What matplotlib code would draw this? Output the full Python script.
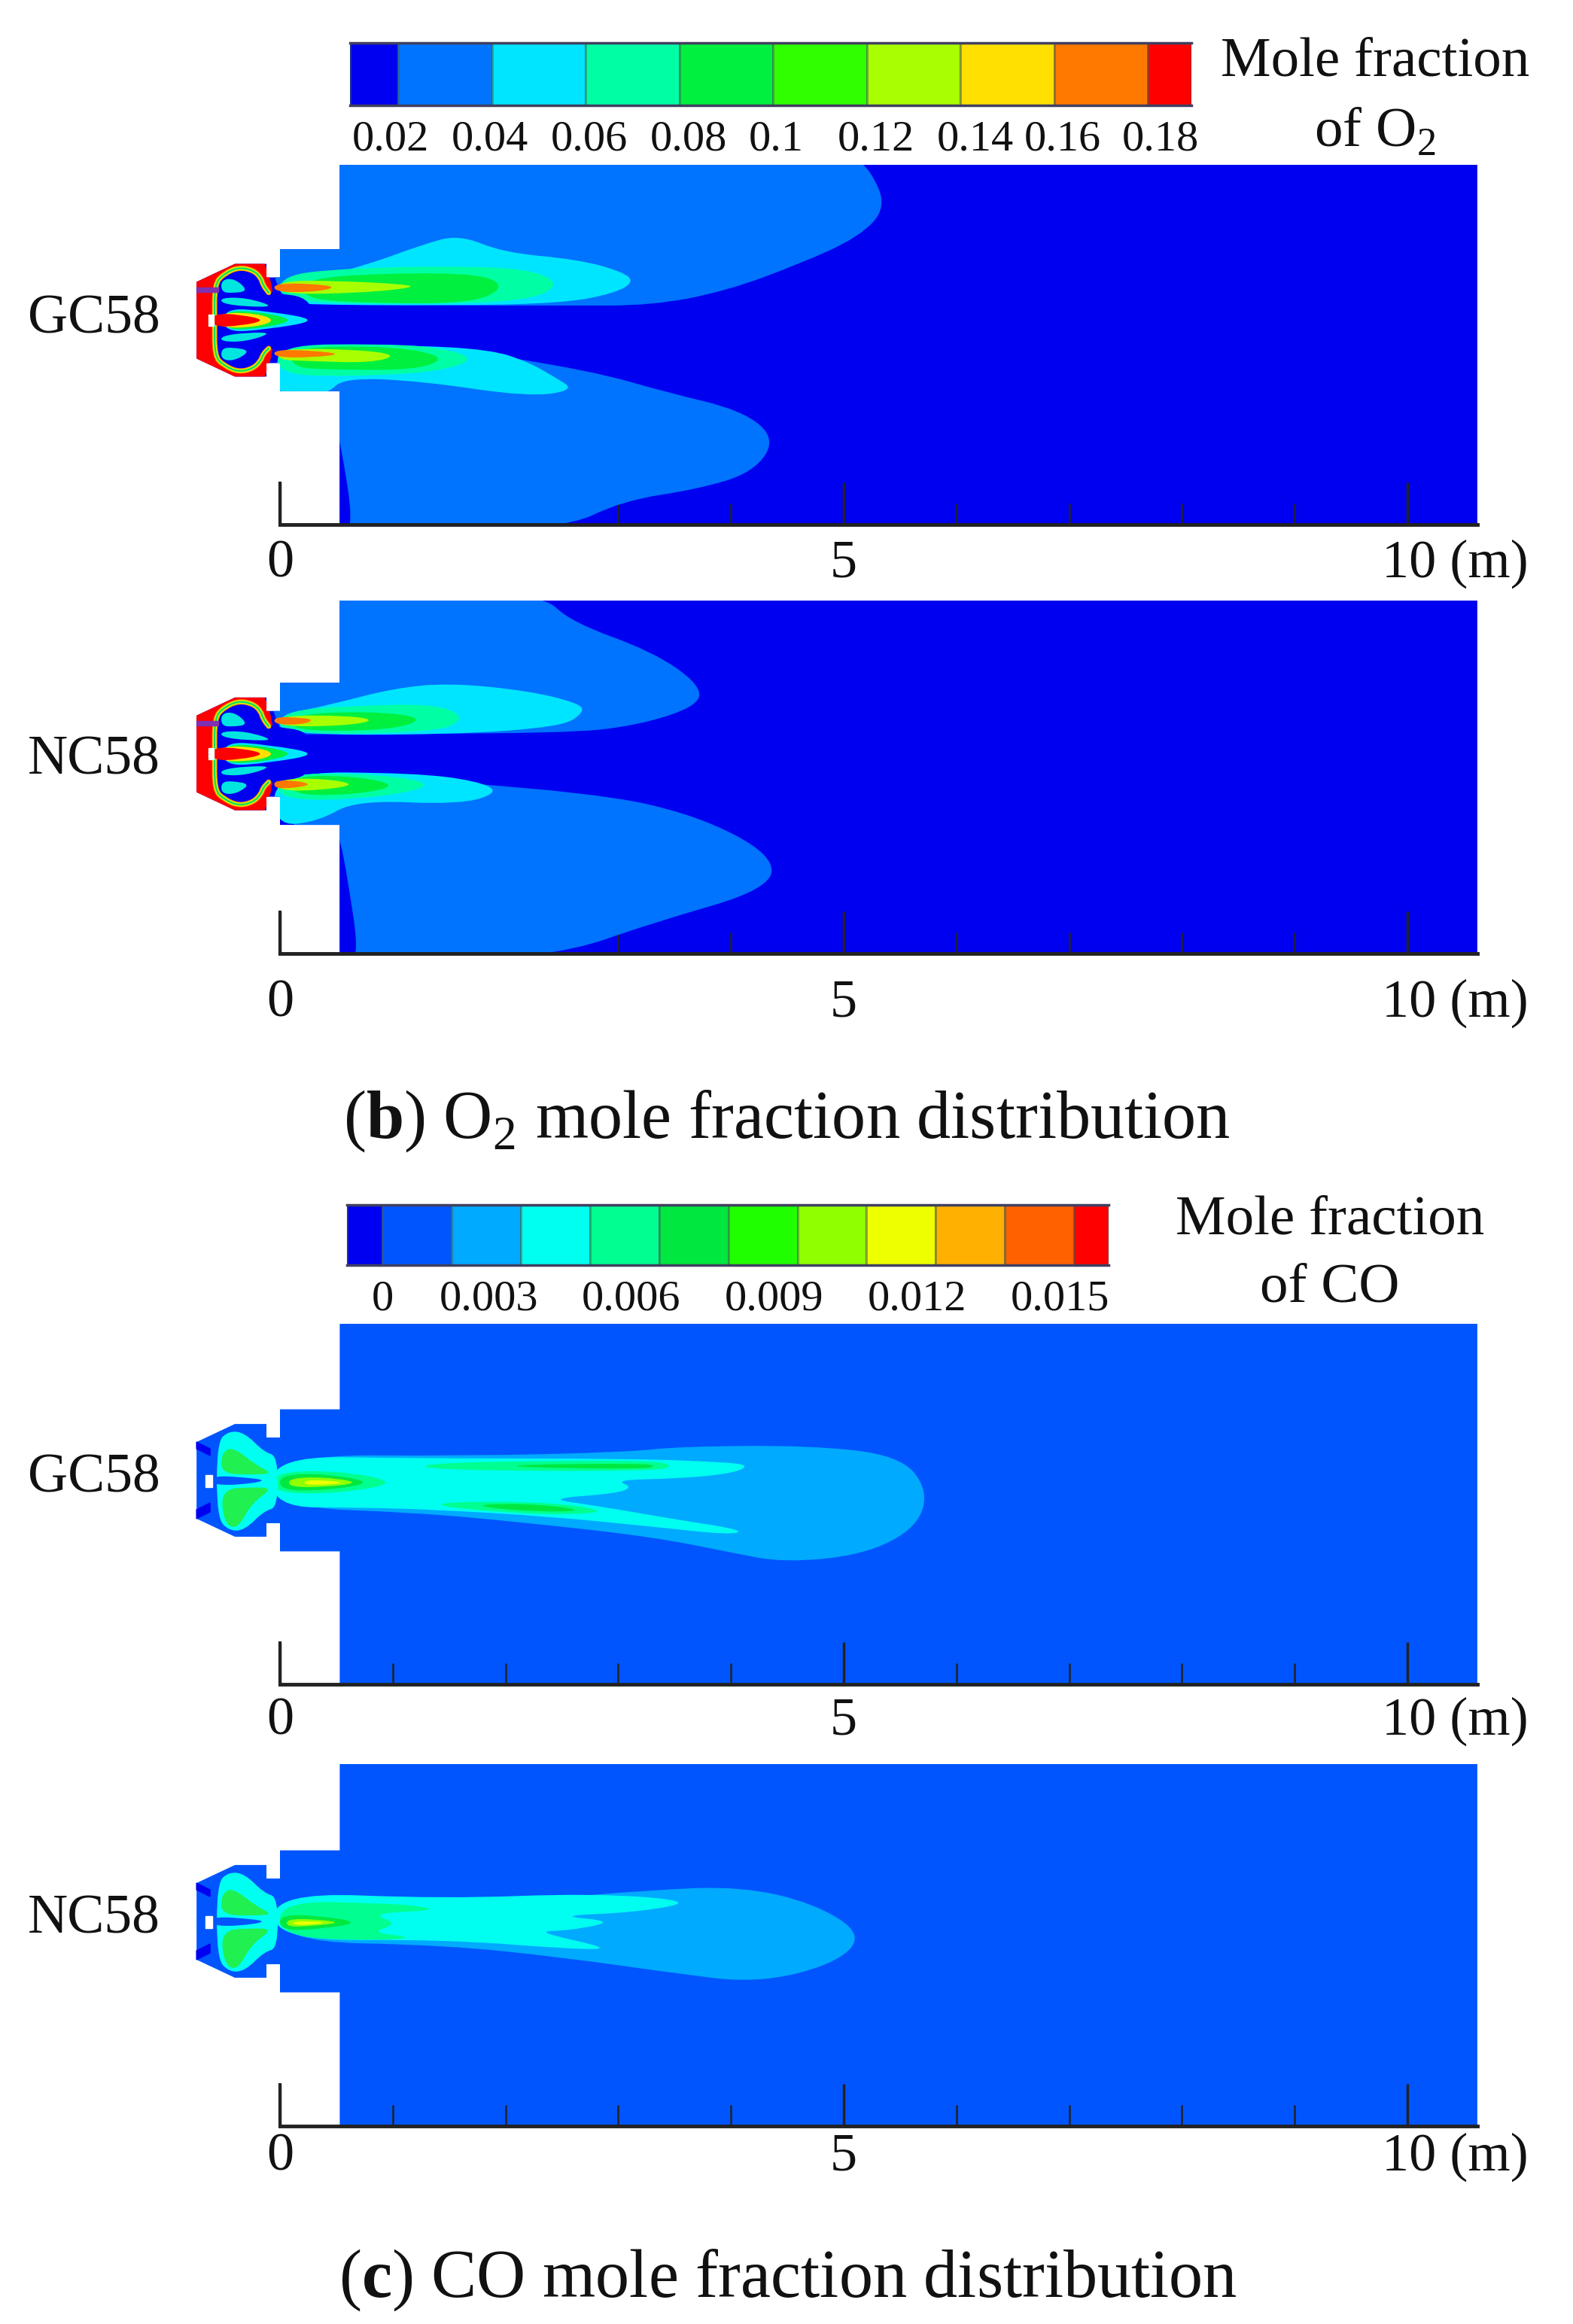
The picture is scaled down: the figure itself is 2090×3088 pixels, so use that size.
import numpy as np
import matplotlib
matplotlib.use('Agg')
import matplotlib.pyplot as plt
from matplotlib.colors import ListedColormap, BoundaryNorm
from matplotlib.path import Path
from matplotlib.patches import PathPatch
from matplotlib.transforms import ScaledTranslation

plt.rcParams['font.family'] = ['Liberation Serif', 'DejaVu Serif']
plt.rcParams['mathtext.fontset'] = 'custom'
plt.rcParams['mathtext.rm'] = 'Liberation Serif'
plt.rcParams['mathtext.bf'] = 'Liberation Serif:bold'

WIDTH, HEIGHT = 2090, 3088
PX_PER_M = 149.8
X0_PX = 372

# Colour bars
O2_EDGES = [0.0097, 0.02, 0.04, 0.06, 0.08, 0.1, 0.12, 0.14, 0.16, 0.18, 0.1893]
O2_COLORS = ['#0000f0', '#0073ff', '#00e5ff', '#00ffa5', '#00f040',
             '#30ff00', '#a8ff00', '#ffe000', '#ff7800', '#ff0000']
O2_TICKS = [0.0184, 0.0396, 0.0608, 0.082, 0.1007, 0.1219, 0.1431, 0.1618, 0.1827]
O2_LABELS = ['0.02', '0.04', '0.06', '0.08', '0.1', '0.12', '0.14', '0.16', '0.18']

CO_EDGES = [-0.00077, 0, 0.0015, 0.003, 0.0045, 0.006, 0.0075, 0.009, 0.0105,
            0.012, 0.0135, 0.015, 0.01575]
CO_COLORS = ['#0000f0', '#0055ff', '#00aaff', '#00fff0', '#00ff90', '#00e840',
             '#20ff00', '#90ff00', '#eeff00', '#ffb000', '#ff6000', '#ff0000']
CO_TICKS = [0, 0.0023, 0.0054, 0.0085, 0.0116, 0.0147]
CO_LABELS = ['0', '0.003', '0.006', '0.009', '0.012', '0.015']

X_MAJOR = [0, 5, 10]
X_MINOR = [1, 2, 3, 4, 6, 7, 8, 9]
X_LABELS = ['0', '5', '10 (m)']

# Outlines: x in m from the axis origin, y in m from the burner axis
BURNER_BOX = [(-0.74, 0.34), (-0.40, 0.50), (-0.12, 0.50), (-0.12, 0.38), (0, 0.38), (0, 0.63),
              (0.53, 0.63)]
BOWL = [(-0.10, 0.245), (-0.15, 0.31), (-0.17, 0.38), (-0.24, 0.445), (-0.37, 0.47), (-0.50, 0.41),
        (-0.58, 0.32), (-0.58, 0), (-0.58, -0.32), (-0.50, -0.40), (-0.37, -0.46), (-0.24, -0.43),
        (-0.17, -0.36), (-0.15, -0.30), (-0.10, -0.25)]
FINGERS = [[(-0.52, 0.20), (-0.30, 0.20), (-0.04, 0.12), (-0.30, 0.12), (-0.52, 0.15)],
           [(-0.52, -0.19), (-0.30, -0.19), (-0.06, -0.11), (-0.30, -0.11), (-0.52, -0.14)],
           [(-0.52, 0.36), (-0.40, 0.37), (-0.28, 0.26), (-0.42, 0.24), (-0.52, 0.25)],
           [(-0.52, -0.35), (-0.40, -0.36), (-0.26, -0.27), (-0.42, -0.24), (-0.52, -0.25)]]
SPIKE_CYAN = [(-0.5, 0.11), (-0.1, 0.08), (0.36, 0), (-0.1, -0.08), (-0.5, -0.11)]
SPIKE_GREEN = [(-0.5, 0.09), (-0.15, 0.07), (0.14, 0), (-0.15, -0.07), (-0.5, -0.09)]
SPIKE_YELLOW = [(-0.55, 0.07), (-0.2, 0.06), (-0.04, 0), (-0.2, -0.06), (-0.55, -0.07)]
SPIKE_RED = [(-0.6, 0.06), (-0.35, 0.05), (-0.12, 0), (-0.35, -0.05), (-0.6, -0.06)]

# O2, GC58
GC_O2_BLUE_TOP = [(0, 0.20), (-0.2, 0.9), (0.3, 1.6), (5.07, 1.46), (5.24, 1.33), (5.38, 1.00),
                  (5.14, 0.74), (4.61, 0.50), (3.96, 0.26), (3.30, 0.13), (2.51, 0.13), (1.46, 0.13),
                  (0.14, 0.14)]
GC_O2_CYAN_TOP = [(0.0, 0.20), (0.14, 0.32), (0.80, 0.50), (1.26, 0.67), (1.59, 0.76), (1.98, 0.60),
                  (2.64, 0.54), (3.04, 0.43), (3.14, 0.34), (2.97, 0.24), (2.51, 0.15), (1.46, 0.13),
                  (0.0, 0.14)]
GC_O2_TEAL_TOP = [(0.0, 0.40), (0.6, 0.46), (1.4, 0.48), (2.2, 0.46), (2.5, 0.32), (2.2, 0.17),
                  (1.2, 0.14), (0.0, 0.16)]
GC_O2_GREEN_TOP = [(0.2, 0.37), (1.0, 0.42), (1.8, 0.41), (2.0, 0.29), (1.7, 0.15), (0.8, 0.15),
                   (0.2, 0.19)]
GC_O2_YELLOW_TOP = [(-0.02, 0.35), (0.5, 0.35), (1.1, 0.32), (1.2, 0.29), (0.7, 0.24), (-0.02, 0.23)]
GC_O2_ORANGE_TOP = [(-0.05, 0.33), (0.35, 0.32), (0.5, 0.29), (0.3, 0.25), (-0.05, 0.25)]
GC_O2_BLUE_LOW = [(0.0, -0.65), (0.54, -0.2), (1.46, -0.24), (2.77, -0.45), (3.43, -0.64), (4.10, -0.80),
                  (4.40, -1.05), (4.20, -1.35), (3.70, -1.50), (3.04, -1.60), (2.5, -1.86), (0.3, -1.95)]
GC_O2_CYAN_LOW = [(-0.05, -0.22), (1.12, -0.22), (1.87, -0.26), (2.2, -0.37), (2.43, -0.50), (2.62, -0.62),
                  (2.2, -0.68), (1.26, -0.54), (0.56, -0.51), (0.42, -0.66), (-0.05, -0.70)]
GC_O2_TEAL_LOW = [(-0.02, -0.22), (0.9, -0.21), (1.4, -0.24), (1.75, -0.34), (1.4, -0.46), (0.6, -0.50),
                  (-0.02, -0.48)]
GC_O2_GREEN_LOW = [(0.1, -0.24), (0.9, -0.23), (1.3, -0.28), (1.45, -0.35), (1.2, -0.44), (0.5, -0.44),
                   (0.1, -0.42)]
GC_O2_YELLOW_LOW = [(-0.02, -0.25), (0.7, -0.26), (1.05, -0.31), (0.8, -0.38), (0.2, -0.36), (-0.02, -0.35)]
GC_O2_ORANGE_LOW = [(-0.05, -0.26), (0.3, -0.27), (0.55, -0.30), (0.3, -0.33), (-0.05, -0.33)]
GC_O2_SLIVER = [(0.50, -1.0), (0.53, -1.05), (0.66, -1.85), (0.50, -1.9)]

# O2, NC58
NC_O2_BLUE_TOP = [(0, 0.15), (-0.2, 0.9), (0.3, 1.6), (2.31, 1.43), (2.58, 1.17), (3.30, 0.91), (3.72, 0.62),
                  (3.72, 0.43), (3.17, 0.25), (2.51, 0.18), (0.14, 0.18)]
NC_O2_CYAN_TOP = [(0.0, 0.34), (0.5, 0.45), (1.0, 0.58), (1.5, 0.63), (2.2, 0.56), (2.65, 0.45), (2.70, 0.37),
                  (2.5, 0.24), (1.5, 0.17), (0.0, 0.17)]
NC_O2_TEAL_TOP = [(0.0, 0.38), (0.7, 0.43), (1.4, 0.44), (1.65, 0.32), (1.4, 0.19), (0.0, 0.17)]
NC_O2_GREEN_TOP = [(0.1, 0.35), (0.8, 0.38), (1.3, 0.32), (1.0, 0.21), (0.1, 0.20)]
NC_O2_YELLOW_TOP = [(-0.02, 0.34), (0.6, 0.34), (0.85, 0.30), (0.6, 0.25), (-0.02, 0.24)]
NC_O2_ORANGE_TOP = [(-0.05, 0.33), (0.2, 0.32), (0.3, 0.30), (0.2, 0.26), (-0.05, 0.26)]
NC_O2_BLUE_LOW = [(0.0, -0.65), (0.5, -0.18), (2.77, -0.34), (3.69, -0.54), (4.38, -0.90), (4.34, -1.20),
                  (3.30, -1.50), (2.44, -1.80), (0.3, -1.95)]
NC_O2_CYAN_LOW = [(-0.05, -0.16), (1.2, -0.17), (1.75, -0.24), (1.95, -0.34), (1.6, -0.45), (0.67, -0.41),
                  (0.34, -0.60), (-0.05, -0.64)]
NC_O2_TEAL_LOW = [(-0.02, -0.17), (0.9, -0.18), (1.4, -0.27), (0.9, -0.39), (-0.02, -0.42)]
NC_O2_GREEN_LOW = [(0.1, -0.19), (0.7, -0.20), (1.05, -0.28), (0.7, -0.36), (0.1, -0.37)]
NC_O2_YELLOW_LOW = [(-0.02, -0.22), (0.4, -0.22), (0.68, -0.27), (0.4, -0.32), (-0.02, -0.33)]
NC_O2_ORANGE_LOW = [(-0.05, -0.23), (0.15, -0.24), (0.28, -0.27), (0.15, -0.30), (-0.05, -0.31)]
NC_O2_SLIVER = [(0.50, -0.7), (0.53, -0.75), (0.60, -1.1), (0.71, -1.85), (0.50, -1.9)]

# CO, GC58
GC_CO_SKY = [(-0.02, 0.227), (1.66, 0.216), (3.07, 0.25), (3.54, 0.30), (4.71, 0.31), (5.50, 0.22),
             (5.75, -0.085), (5.65, -0.42), (5.18, -0.66), (4.47, -0.73), (4.0, -0.64), (3.30, -0.50),
             (2.13, -0.37), (1.19, -0.285), (-0.02, -0.24)]
GC_CO_CYAN = [(-0.07, 0.216), (1.19, 0.194), (3.07, 0.194), (4.0, 0.16), (4.16, 0.127), (4.0, 0.06),
              (3.54, 0.016), (2.97, 0.004), (3.13, -0.062), (2.97, -0.118), (2.36, -0.163), (2.83, -0.229),
              (3.54, -0.352), (4.11, -0.44), (4.0, -0.485), (3.30, -0.41), (2.36, -0.318), (1.43, -0.263),
              (0.73, -0.24), (-0.07, -0.24)]
GC_CO_UP_TEAL = [(1.29, 0.16), (3.3, 0.18), (3.5, 0.127), (3.3, 0.08), (1.29, 0.09)]
GC_CO_UP_GREEN = [(2.1, 0.14), (3.2, 0.15), (3.35, 0.127), (3.2, 0.10), (2.1, 0.115)]
GC_CO_LOW_TEAL = [(1.43, -0.19), (2.4, -0.19), (2.95, -0.28), (2.4, -0.31), (1.43, -0.24)]
GC_CO_LOW_GREEN = [(1.8, -0.21), (2.3, -0.21), (2.72, -0.27), (2.3, -0.28), (1.8, -0.24)]
GC_CO_CORE_TEAL = [(-0.07, 0.07), (0.5, 0.09), (1.08, -0.02), (0.5, -0.12), (-0.07, -0.11)]
GC_CO_CORE_GREEN = [(0.0, 0.05), (0.4, 0.06), (0.85, -0.02), (0.4, -0.09), (0.0, -0.09)]
GC_CO_CORE_LIME = [(0.08, 0.02), (0.4, 0.03), (0.72, -0.02), (0.4, -0.06), (0.08, -0.06)]
GC_CO_CORE_YELLOW = [(0.22, 0.0), (0.4, 0.0), (0.58, -0.02), (0.4, -0.04), (0.22, -0.04)]
CO_BOWL = [(-0.56, 0.34), (-0.45, 0.44), (-0.31, 0.42), (-0.14, 0.25), (-0.02, 0.216), (-0.02, -0.24),
           (-0.14, -0.27), (-0.31, -0.44), (-0.45, -0.45), (-0.56, -0.33)]
CO_BOWL_GREEN_UP = [(-0.52, 0.24), (-0.42, 0.30), (-0.22, 0.14), (-0.06, 0.06), (-0.25, 0.05), (-0.52, 0.06)]
CO_BOWL_GREEN_LOW = [(-0.52, -0.08), (-0.25, -0.06), (-0.06, -0.07), (-0.25, -0.2), (-0.38, -0.44), (-0.50, -0.37)]
CO_WEDGE = [(-0.6, 0.04), (-0.35, 0.03), (-0.10, 0), (-0.35, -0.04), (-0.6, -0.04)]

# CO, NC58
NC_CO_SKY = [(0.0, 0.24), (2.12, 0.18), (3.30, 0.28), (4.09, 0.31), (4.74, 0.16), (5.18, -0.12), (4.92, -0.38),
             (4.22, -0.55), (3.43, -0.45), (2.51, -0.32), (1.46, -0.21), (0.0, -0.18)]
NC_CO_CYAN = [(-0.05, 0.26), (1.46, 0.20), (2.77, 0.25), (3.70, 0.18), (3.17, 0.08), (2.44, 0.05), (2.98, 0.0),
              (2.58, -0.08), (2.25, -0.09), (2.94, -0.24), (2.64, -0.25), (1.46, -0.16), (-0.05, -0.17)]
NC_CO_TEAL = [(0.0, 0.18), (0.9, 0.16), (1.2, 0.14), (1.4, 0.10), (0.8, 0.07), (1.05, -0.02), (0.8, -0.10),
              (1.2, -0.14), (0.9, -0.17), (0.0, -0.14)]
NC_CO_GREEN = [(0.0, 0.06), (0.35, 0.05), (0.72, -0.01), (0.35, -0.07), (0.0, -0.08)]
NC_CO_LIME = [(0.06, 0.02), (0.3, 0.02), (0.55, -0.01), (0.3, -0.04), (0.06, -0.05)]
NC_CO_YELLOW = [(0.12, 0.0), (0.27, 0.0), (0.42, -0.01), (0.27, -0.03), (0.12, -0.03)]

fig = plt.figure(figsize=(WIDTH / 100, HEIGHT / 100), dpi=100, facecolor='white')


def px_axes(left, top, right, bottom):
    return fig.add_axes([left / WIDTH, 1 - bottom / HEIGHT, (right - left) / WIDTH, (bottom - top) / HEIGHT])


def px_text(x, y, s, size, **kw):
    fig.text(x / WIDTH, 1 - y / HEIGHT, s, fontsize=size, ha='center', va='center', color='#111111', **kw)


def smooth_path(points, closed=True):
    # quadratic spline through the midpoints, so the outlines have no corners
    pts = np.array(points, dtype=float)
    if closed:
        mids = (pts + np.roll(pts, -1, axis=0)) / 2
        verts = [mids[-1]]
        codes = [Path.MOVETO]
        for p, m in zip(pts, mids):
            verts += [p, m]
            codes += [Path.CURVE3, Path.CURVE3]
        verts.append(mids[-1])
        codes.append(Path.CLOSEPOLY)
    else:
        mids = (pts[:-1] + pts[1:]) / 2
        verts = [pts[0], mids[0]]
        codes = [Path.MOVETO, Path.LINETO]
        for p, m in zip(pts[1:-1], mids[1:]):
            verts += [p, m]
            codes += [Path.CURVE3, Path.CURVE3]
        verts.append(pts[-1])
        codes.append(Path.LINETO)
    return Path(verts, codes)


def add_field(ax, clip, points, color):
    patch = PathPatch(smooth_path(points), fc=color, ec='none', zorder=2)
    ax.add_patch(patch)
    patch.set_clip_path(clip)


def colorbar(left, top, right, bottom, edges, colors, ticks, labels, pad):
    ax = px_axes(left, top, right, bottom)
    cmap = ListedColormap(colors)
    norm = BoundaryNorm(edges, cmap.N)
    values = np.array([[(a + b) / 2 for a, b in zip(edges[:-1], edges[1:])]])
    ax.pcolormesh(edges, [0, 1], values, cmap=cmap, norm=norm, edgecolors='#40605080', linewidth=0.8)
    ax.set_xlim(edges[0], edges[-1])
    ax.set_yticks([])
    ax.set_xticks(ticks)
    ax.set_xticklabels(labels, fontsize=42, color='#111111')
    ax.tick_params(axis='x', length=0, pad=pad)
    for name in ['left', 'right']:
        ax.spines[name].set_visible(False)
    for name in ['top', 'bottom']:
        ax.spines[name].set_color('#404060')
        ax.spines[name].set_linewidth(2.5)


def panel(top, bottom, centre, base, layers, burner, pad):
    ax = px_axes(200, top, 2000, bottom)
    ax.set_xlim((200 - X0_PX) / PX_PER_M, (2000 - X0_PX) / PX_PER_M)
    y_top = (centre - top) / PX_PER_M
    y_bot = (centre - bottom) / PX_PER_M
    ax.set_ylim(y_bot, y_top)
    ax.patch.set_visible(False)

    mirrored = [(x, -y) for x, y in BURNER_BOX[::-1]]
    outline = BURNER_BOX + [(0.53, y_top), (10.62, y_top), (10.62, y_bot), (0.53, y_bot)] + mirrored
    clip = plt.Polygon(outline, closed=True, fc=base, ec='none', zorder=1)
    ax.add_patch(clip)

    for points, color in layers:
        add_field(ax, clip, points, color)
    burner(ax, clip)

    for name in ['top', 'right']:
        ax.spines[name].set_visible(False)
    ax.spines['bottom'].set_bounds(0, 10.62)
    ax.spines['bottom'].set_linewidth(3.5)
    ax.spines['bottom'].set_color('#222222')
    ax.spines['bottom'].set_zorder(5)
    ax.spines['left'].set_position(('data', 0))
    ax.spines['left'].set_bounds(y_bot, y_bot + 0.37)
    ax.spines['left'].set_linewidth(3)
    ax.spines['left'].set_color('#222222')
    ax.set_yticks([])

    ax.set_xticks(X_MINOR, minor=True)
    ax.set_xticks(X_MAJOR)
    ax.set_xticklabels(X_LABELS, fontsize=52, color='#111111')
    ax.tick_params(axis='x', which='major', direction='in', length=40, width=2.5, color='#222222', pad=pad)
    ax.tick_params(axis='x', which='minor', direction='in', length=20, width=1.8, color='#222222')
    label = ax.get_xticklabels()[2]
    label.set_ha('left')
    label.set_transform(label.get_transform() + ScaledTranslation(-0.34, 0, fig.dpi_scale_trans))
    return ax


def o2_burner(ax, clip):
    add_field(ax, clip, [(-0.85, 0.7), (-0.05, 0.7), (-0.05, -0.7), (-0.85, -0.7)], '#ff0000')
    bowl = PathPatch(smooth_path(BOWL + [(0.3, -0.2), (0.3, 0.2)]), fc=O2_COLORS[0], ec='none', zorder=3)
    ax.add_patch(bowl)
    for color, lw in [('#ff9000', 5), ('#d8f000', 3.5), ('#00e060', 1.5)]:
        line = PathPatch(smooth_path(BOWL, closed=False), fc='none', ec=color, lw=lw, zorder=3, capstyle='round')
        ax.add_patch(line)
    for finger in FINGERS:
        ax.add_patch(PathPatch(smooth_path(finger), fc='#00e5e0', ec='none', zorder=3))
    for spike, color in [(SPIKE_CYAN, O2_COLORS[2]), (SPIKE_GREEN, O2_COLORS[4]),
                         (SPIKE_YELLOW, O2_COLORS[7]), (SPIKE_RED, O2_COLORS[9])]:
        ax.add_patch(PathPatch(smooth_path(spike), fc=color, ec='none', zorder=3))
    ax.fill([-0.74, -0.55, -0.55, -0.74], [0.29, 0.29, 0.25, 0.25], color='#8030b0', zorder=3)
    ax.fill([-0.636, -0.59, -0.59, -0.636], [0.05, 0.05, -0.05, -0.05], color='white', zorder=4)


def co_burner(ax, clip):
    add_field(ax, clip, CO_BOWL, CO_COLORS[3])
    for patch_pts in [CO_BOWL_GREEN_UP, CO_BOWL_GREEN_LOW]:
        add_field(ax, clip, patch_pts, '#20f050')
    add_field(ax, clip, CO_WEDGE, CO_COLORS[1])
    ax.fill([-0.74, -0.62, -0.62, -0.74], [0.34, 0.28, 0.22, 0.28], color=CO_COLORS[0], zorder=3)
    ax.fill([-0.74, -0.62, -0.62, -0.74], [-0.34, -0.28, -0.20, -0.26], color=CO_COLORS[0], zorder=3)
    ax.fill([-0.66, -0.60, -0.60, -0.66], [0.05, 0.05, -0.06, -0.06], color='white', zorder=4)


c = O2_COLORS
gc_o2 = [(GC_O2_BLUE_TOP, c[1]), (GC_O2_BLUE_LOW, c[1]), (GC_O2_SLIVER, c[0]),
         (GC_O2_CYAN_TOP, c[2]), (GC_O2_TEAL_TOP, c[3]), (GC_O2_GREEN_TOP, c[4]),
         (GC_O2_YELLOW_TOP, c[6]), (GC_O2_ORANGE_TOP, c[8]),
         (GC_O2_CYAN_LOW, c[2]), (GC_O2_TEAL_LOW, c[3]), (GC_O2_GREEN_LOW, c[4]),
         (GC_O2_YELLOW_LOW, c[6]), (GC_O2_ORANGE_LOW, c[8])]
nc_o2 = [(NC_O2_BLUE_TOP, c[1]), (NC_O2_BLUE_LOW, c[1]), (NC_O2_SLIVER, c[0]),
         (NC_O2_CYAN_TOP, c[2]), (NC_O2_TEAL_TOP, c[3]), (NC_O2_GREEN_TOP, c[4]),
         (NC_O2_YELLOW_TOP, c[6]), (NC_O2_ORANGE_TOP, c[8]),
         (NC_O2_CYAN_LOW, c[2]), (NC_O2_TEAL_LOW, c[3]), (NC_O2_GREEN_LOW, c[4]),
         (NC_O2_YELLOW_LOW, c[6]), (NC_O2_ORANGE_LOW, c[8])]
k = CO_COLORS
gc_co = [(GC_CO_SKY, k[2]), (GC_CO_CYAN, k[3]), (GC_CO_UP_TEAL, k[4]), (GC_CO_UP_GREEN, k[5]),
         (GC_CO_LOW_TEAL, k[4]), (GC_CO_LOW_GREEN, k[5]), (GC_CO_CORE_TEAL, k[4]), (GC_CO_CORE_GREEN, k[5]),
         (GC_CO_CORE_LIME, k[7]), (GC_CO_CORE_YELLOW, k[8])]
nc_co = [(NC_CO_SKY, k[2]), (NC_CO_CYAN, k[3]), (NC_CO_TEAL, k[4]), (NC_CO_GREEN, k[5]),
         (NC_CO_LIME, k[7]), (NC_CO_YELLOW, k[8])]

colorbar(465, 57, 1583, 140, O2_EDGES, O2_COLORS, O2_TICKS, O2_LABELS, 14)
colorbar(461, 1601, 1473, 1681, CO_EDGES, CO_COLORS, CO_TICKS, CO_LABELS, 14)

panel(219, 697, 425.5, O2_COLORS[0], gc_o2, o2_burner, 14)
panel(798, 1267, 1001.7, O2_COLORS[0], nc_o2, o2_burner, 24)
panel(1759, 2238, 1967, CO_COLORS[1], gc_co, co_burner, 12)
panel(2344, 2825, 2553, CO_COLORS[1], nc_co, co_burner, 6)

px_text(1827, 83, 'Mole fraction', 54)
px_text(1827, 177, r'of O$_2$', 54)
px_text(1767, 1622, 'Mole fraction', 54)
px_text(1767, 1712, 'of CO', 54)
for y, name in [(425, 'GC58'), (1011, 'NC58'), (1965, 'GC58'), (2551, 'NC58')]:
    px_text(125, y, name, 53)

px_text(1045, 1490, r'($\mathbf{b}$) O$_2$ mole fraction distribution', 65)
px_text(1047, 3030, r'($\mathbf{c}$) CO mole fraction distribution', 65)

fig.savefig('out.png', dpi=100, facecolor='white')
